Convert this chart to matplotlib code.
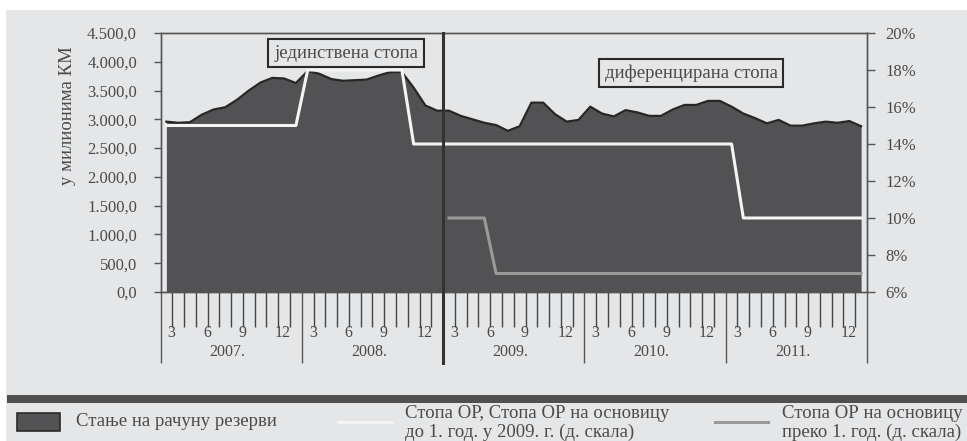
import matplotlib
matplotlib.use("Agg")
import matplotlib.pyplot as plt
import matplotlib.transforms as mtransforms
from matplotlib.patches import Rectangle
from matplotlib.lines import Line2D
import numpy as np

plt.rcParams['font.family'] = ['Liberation Serif', 'DejaVu Serif']

# ---- data (monthly, Jan 2007 - Dec 2011) ----
years = ['2007.', '2008.', '2009.', '2010.', '2011.']
month_labels = ['3', '6', '9', '12']
reserves = [2960, 2940, 2950, 3080, 3170, 3210, 3340, 3500, 3640, 3720, 3710, 3630,
            3840, 3790, 3700, 3670, 3680, 3690, 3760, 3820, 3820, 3550, 3240, 3150,
            3150, 3060, 3000, 2940, 2900, 2800, 2880, 3290, 3290, 3090, 2960, 2990,
            3220, 3100, 3050, 3160, 3120, 3060, 3060, 3170, 3250, 3250, 3320, 3320,
            3220, 3100, 3020, 2930, 2990, 2890, 2890, 2930, 2960, 2940, 2970, 2880]
rate_main = [15]*12 + [18]*9 + [14]*28 + [10]*11
rate_long = [np.nan]*24 + [10]*4 + [7]*32

left_ticks = [0, 500, 1000, 1500, 2000, 2500, 3000, 3500, 4000, 4500]
left_tick_labels = ['0,0', '500,0', '1.000,0', '1.500,0', '2.000,0', '2.500,0',
                    '3.000,0', '3.500,0', '4.000,0', '4.500,0']
right_ticks = [6, 8, 10, 12, 14, 16, 18, 20]
right_tick_labels = ['6%', '8%', '10%', '12%', '14%', '16%', '18%', '20%']

BG = '#e5e6e8'
TXT = '#4a4a4a'
FILL = '#525254'

W, H = 967, 441
fig = plt.figure(figsize=(W/100, H/100), dpi=100)
fig.patch.set_facecolor('white')
fig.patches.append(Rectangle((6/W, 0), 1, 1 - 10/H, transform=fig.transFigure,
                             facecolor=BG, edgecolor='none', zorder=-10))

ax = fig.add_axes([160.5/W, 1 - 292/H, (867 - 160.5)/W, (292 - 33)/H])
ax.set_facecolor(BG)
x = np.arange(len(reserves)) + 0.5
ax.fill_between(x, reserves, 0, color=FILL, linewidth=0, zorder=2)
ax.plot(x, reserves, color='#262626', lw=1.6, zorder=3)
ax.set_xlim(0, 60)
ax.set_ylim(0, 4500)
ax.set_yticks(left_ticks)
ax.set_yticklabels(left_tick_labels)
for s in ax.spines.values():
    s.set_color('#555555')
    s.set_linewidth(1.0)
ax.tick_params(axis='y', direction='out', length=5, width=1, color='#555555',
               labelsize=12, labelcolor=TXT, pad=12)
ax.set_xticks(np.arange(0, 61, 12))
ax.set_xticks([m for m in range(1, 60) if m % 12 != 0], minor=True)
ax.tick_params(axis='x', which='major', direction='out', length=51, width=1.0,
               color='#555555', labelbottom=False)
ax.tick_params(axis='x', which='minor', direction='out', length=25, width=1.0,
               color='#444444', labelbottom=False)

trans = mtransforms.blended_transform_factory(ax.transData, ax.transAxes)
month_pos = {'3': 0.95, '6': 3.97, '9': 6.95, '12': 10.4}
for yi, yl in enumerate(years):
    for ml in month_labels:
        ax.text(12*yi + month_pos[ml], -41/259, ml, transform=trans, ha='center',
                va='center', fontsize=11.5, color=TXT)
    ax.text(12*yi + 5.7, -60/259, yl, transform=trans, ha='center', va='center',
            fontsize=11.5, color=TXT)

ax2 = ax.twinx()
ax2.set_ylim(6, 20)
ax2.set_yticks(right_ticks)
ax2.set_yticklabels(right_tick_labels)
ax2.tick_params(axis='y', direction='out', length=6, width=1, color='#555555',
                labelsize=12, labelcolor=TXT, pad=7)
for s in ax2.spines.values():
    s.set_color('#555555')
    s.set_linewidth(1.0)
ax2.plot(x, rate_main, color='#f4f4f4', lw=2.2, zorder=4)
ax2.plot(x, rate_long, color='#9a9a9a', lw=2.2, zorder=4)
ax2.plot([24, 24], [1, -71/259], transform=trans, color='#333333', lw=2.2,
         clip_on=False, zorder=6)

ax2.text((346 - 160.5)/706.5, (292 - 53)/259, 'јединствена стопа',
         transform=ax.transAxes, ha='center', va='center', fontsize=13.5, color=TXT,
         zorder=7, bbox=dict(boxstyle='square,pad=0.3', facecolor=BG,
                             edgecolor='#2a2a2a', linewidth=1.5))
ax2.text((691 - 160.5)/706.5, (292 - 73)/259, 'диференцирана стопа',
         transform=ax.transAxes, ha='center', va='center', fontsize=13.5, color=TXT,
         zorder=7, bbox=dict(boxstyle='square,pad=0.3', facecolor=BG,
                             edgecolor='#2a2a2a', linewidth=1.5))

fig.text(67/W, 1 - 116/H, 'у милионима КМ', rotation=90, ha='center', va='center',
         fontsize=13.5, color=TXT)

# ---- legend area ----
fig.patches.append(Rectangle((7/W, 1 - 403/H), 1, 8/H, transform=fig.transFigure,
                             facecolor='#505050', edgecolor='none'))
fig.patches.append(Rectangle((17/W, 1 - 431/H), 43/W, 18/H, transform=fig.transFigure,
                             facecolor=FILL, edgecolor='#2a2a2a', linewidth=1.2))
fig.text(76/W, 1 - 422/H, 'Стање на рачуну резерви', ha='left', va='center',
         fontsize=13.5, color=TXT)
fig.lines.append(Line2D([338/W, 392/W], [1 - 422/H]*2, transform=fig.transFigure,
                        color='#f4f4f4', lw=2.2))
fig.text(405/W, 1 - 413/H, 'Стопа ОР, Стопа ОР на основицу', ha='left', va='center',
         fontsize=13.5, color=TXT)
fig.text(405/W, 1 - 432/H, 'до 1. год. у 2009. г. (д. скала)', ha='left', va='center',
         fontsize=13.5, color=TXT)
fig.lines.append(Line2D([715/W, 768/W], [1 - 422/H]*2, transform=fig.transFigure,
                        color='#9a9a9a', lw=2.2))
fig.text(782/W, 1 - 413/H, 'Стопа ОР на основицу', ha='left', va='center',
         fontsize=13.5, color=TXT)
fig.text(782/W, 1 - 432/H, 'преко 1. год. (д. скала)', ha='left', va='center',
         fontsize=13.5, color=TXT)

fig.savefig('out.png', dpi=100, facecolor=fig.get_facecolor())
